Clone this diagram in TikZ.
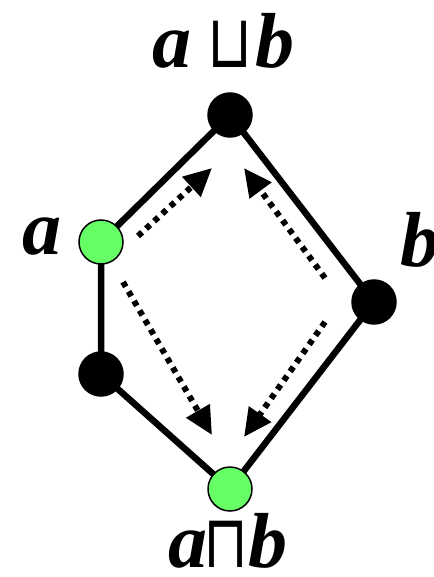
\documentclass[tikz,border=0pt]{standalone}
\usepackage{fontspec}
\setmainfont{Liberation Serif}
\newfontfamily\symfont{DejaVu Sans}
\usetikzlibrary{arrows.meta}
\definecolor{latgreen}{RGB}{102,255,102}
\newcommand{\latop}[1]{{\normalfont\symfont\fontsize{74}{76}\selectfont\scalebox{0.78}[1]{#1}}}

\begin{document}
\begin{tikzpicture}[x=1pt,y=-1pt,line cap=round,
  elem/.style={circle,draw=black,line width=1.5pt,minimum size=44pt,inner sep=0pt},
  lbl/.style={font=\fontsize{78}{80}\selectfont\bfseries\itshape,inner sep=0pt,anchor=base west},
  order/.style={line width=6.5pt},
  approx/.style={line width=6pt,line cap=butt,dash pattern=on 5.5pt off 5.5pt,
    -{Triangle[length=28pt,width=26pt]}}]
\useasboundingbox (0,0) rectangle (433,577);
% lattice elements
\coordinate (top) at (230,115);
\coordinate (lft) at (101,242);
\coordinate (rgt) at (374,302);
\coordinate (low) at (101,374);
\coordinate (bot) at (230,489);
\draw[order] (top) -- (lft) -- (low) -- (bot) -- (rgt) -- cycle;
\node[elem,fill=black] (join) at (top) {};
\node[elem,fill=latgreen] (a) at (lft) {};
\node[elem,fill=black] (b) at (rgt) {};
\node[elem,fill=black] (c) at (low) {};
\node[elem,fill=latgreen] (meet) at (bot) {};
% labels
\node[lbl] (joinlbl) at (152,68) {a\kern16pt\latop{⊔}\kern3pt b};
\node[lbl] (albl) at (22,254) {a};
\node[lbl] (blbl) at (400,266) {b};
\node[lbl] (meetlbl) at (168,567) {a\kern-4pt\latop{⊓}\kern0pt b};
% dotted arrows
\coordinate (a1) at (138,236);
\coordinate (a2) at (212,168);
\coordinate (b1) at (325,278);
\coordinate (b2) at (244,168);
\coordinate (a3) at (123,282);
\coordinate (a4) at (212,435);
\coordinate (b3) at (325,322);
\coordinate (b4) at (244,437);
\draw[approx] (a1) -- (a2);
\draw[approx] (b1) -- (b2);
\draw[approx] (a3) -- (a4);
\draw[approx] (b3) -- (b4);
\end{tikzpicture}
\end{document}
